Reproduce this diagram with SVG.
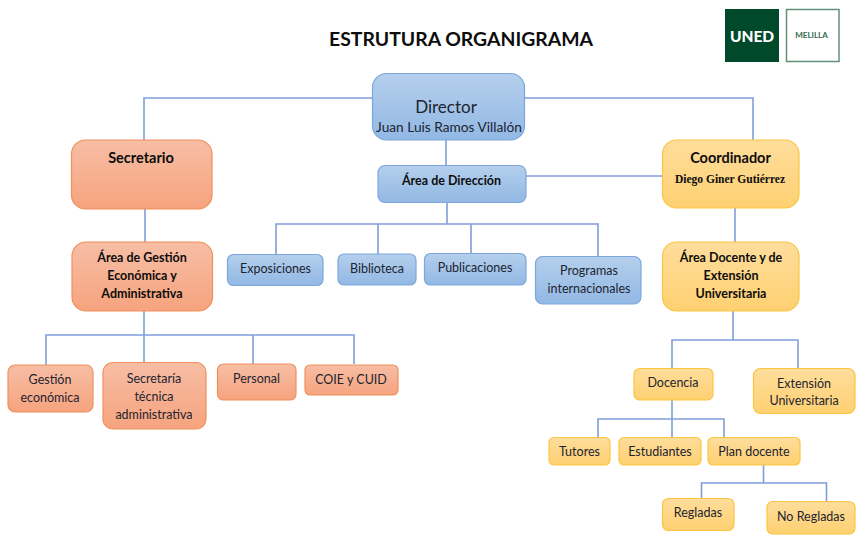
<svg xmlns="http://www.w3.org/2000/svg" width="868" height="548" viewBox="0 0 868 548">
<style>
text{font-family:Lato,"Open Sans","Liberation Sans",sans-serif;fill:#1d2430;text-anchor:middle;font-size:12.500px}
.b{font-weight:700;fill:#0d0d0d;font-size:12.500px}
.h{font-size:14.500px}
.blue{fill:url(#gb);stroke:#7ba7dc;stroke-width:1.2}
.org{fill:url(#go);stroke:#f0905a;stroke-width:1.2}
.yel{fill:url(#gy);stroke:#fcc53f;stroke-width:1.2}
#connectors path{fill:none;stroke:#7f9fd8;stroke-width:1.6}
</style>
<defs>
<linearGradient id="gb" x1="0" y1="0" x2="0" y2="1"><stop offset="0" stop-color="#b4cfec"/><stop offset="1" stop-color="#92b8e4"/></linearGradient>
<linearGradient id="go" x1="0" y1="0" x2="0" y2="1"><stop offset="0" stop-color="#f7bea5"/><stop offset="1" stop-color="#f6a37e"/></linearGradient>
<linearGradient id="gy" x1="0" y1="0" x2="0" y2="1"><stop offset="0" stop-color="#fedd9c"/><stop offset="1" stop-color="#fed071"/></linearGradient>
</defs>
<rect width="868" height="548" fill="#fff"/>
<text id="title" class="b" x="461" y="45.500" style="font-size:19.400px">ESTRUTURA ORGANIGRAMA</text>
<g id="logo">
<rect x="725" y="9" width="54" height="53" fill="#00492b"/>
<rect x="786.500" y="9.500" width="52.500" height="52" fill="#fff" stroke="#5f9078" stroke-width="1.500"/>
<text x="752" y="41.500" style="font-size:15.500px;font-weight:900;fill:#fff">UNED</text>
<text x="811.500" y="38" style="font-size:8px;font-weight:700;fill:#2f6b4f">MELILLA</text>
</g>
<g id="connectors">
<path d="M372 98H144V140"/>
<path d="M525 98H753V140"/>
<path d="M446 140V165"/>
<path d="M526 176H662"/>
<path d="M145 209V242"/>
<path d="M735 208V242"/>
<path d="M447 202V224M276 254V224H598V256M378 224V254M471 224V253"/>
<path d="M144 311V362M46 365V335H354V364M253 335V364"/>
<path d="M733 311V340M672 368V340H798V368"/>
<path d="M672 400V437M598 437V419H724V437"/>
<path d="M763.500 465V483M701.500 498V483H826.500V501"/>
</g>
<g id="director"><rect class="blue" x="372.500" y="73.500" width="152" height="66.500" rx="14"/><text x="446" y="113" style="font-size:17px">Director</text><text x="449" y="131.500" style="font-size:13.700px">Juan Luis Ramos Villalón</text></g>
<g id="area-direccion"><rect class="blue" x="378" y="165.500" width="148" height="37" rx="7"/><text class="b" x="451.500" y="185">Área de Dirección</text></g>
<g id="secretario"><rect class="org" x="71.500" y="140" width="140.500" height="69" rx="14"/><text class="b h" x="141" y="163">Secretario</text></g>
<g id="coordinador"><rect class="yel" x="662.500" y="140" width="136.500" height="68" rx="14"/><text class="b h" x="730.500" y="163">Coordinador</text><text x="730" y="183" style="font-family:'Liberation Serif',serif;font-size:11.500px;font-weight:700;fill:#0d0d0d">Diego Giner Gutiérrez</text></g>
<g id="area-gestion"><rect class="org" x="72" y="242" width="140.500" height="69" rx="14"/><text class="b" x="142" y="262">Área de Gestión</text><text class="b" x="142" y="280">Económica y</text><text class="b" x="142" y="298">Administrativa</text></g>
<g id="area-docente"><rect class="yel" x="662.500" y="242" width="136.500" height="69" rx="14"/><text class="b" x="731" y="262">Área Docente y de</text><text class="b" x="731" y="280">Extensión</text><text class="b" x="731" y="298">Universitaria</text></g>
<g id="exposiciones"><rect class="blue" x="227.500" y="254.500" width="95.500" height="31" rx="6"/><text x="275.500" y="272.500">Exposiciones</text></g>
<g id="biblioteca"><rect class="blue" x="338" y="254" width="78" height="31" rx="6"/><text x="377" y="272.500">Biblioteca</text></g>
<g id="publicaciones"><rect class="blue" x="424.500" y="253.500" width="101.500" height="31.500" rx="6"/><text x="475" y="272">Publicaciones</text></g>
<g id="programas"><rect class="blue" x="535.500" y="256.500" width="105.500" height="47.500" rx="7"/><text x="589" y="275">Programas</text><text x="589" y="293">internacionales</text></g>
<g id="gestion-economica"><rect class="org" x="8" y="365" width="85" height="47" rx="7"/><text x="50" y="384">Gestión</text><text x="50" y="402">económica</text></g>
<g id="secretaria-tecnica"><rect class="org" x="103" y="362.500" width="103" height="66.500" rx="10"/><text x="154" y="383">Secretaría</text><text x="154" y="400.500">técnica</text><text x="154" y="418.500">administrativa</text></g>
<g id="personal"><rect class="org" x="217.500" y="364" width="78.500" height="36" rx="6"/><text x="256.500" y="383">Personal</text></g>
<g id="coie"><rect class="org" x="305" y="365" width="93" height="30" rx="5"/><text x="351" y="384">COIE y CUID</text></g>
<g id="docencia"><rect class="yel" x="634" y="368.500" width="79" height="31.500" rx="6"/><text x="673" y="387">Docencia</text></g>
<g id="extension"><rect class="yel" x="753.500" y="368.500" width="101.500" height="45" rx="7"/><text x="804" y="388">Extensión</text><text x="804" y="405">Universitaria</text></g>
<g id="tutores"><rect class="yel" x="549" y="437.500" width="61" height="27.500" rx="5"/><text x="579.500" y="456">Tutores</text></g>
<g id="estudiantes"><rect class="yel" x="619" y="437.500" width="82" height="27.500" rx="5"/><text x="660" y="456">Estudiantes</text></g>
<g id="plan-docente"><rect class="yel" x="708" y="437.500" width="92" height="27.500" rx="5"/><text x="754" y="456">Plan docente</text></g>
<g id="regladas"><rect class="yel" x="662.500" y="498.500" width="71.500" height="32" rx="6"/><text x="698" y="516.500">Regladas</text></g>
<g id="no-regladas"><rect class="yel" x="767" y="501.500" width="88" height="32.500" rx="6"/><text x="811" y="520.500">No Regladas</text></g>
</svg>
